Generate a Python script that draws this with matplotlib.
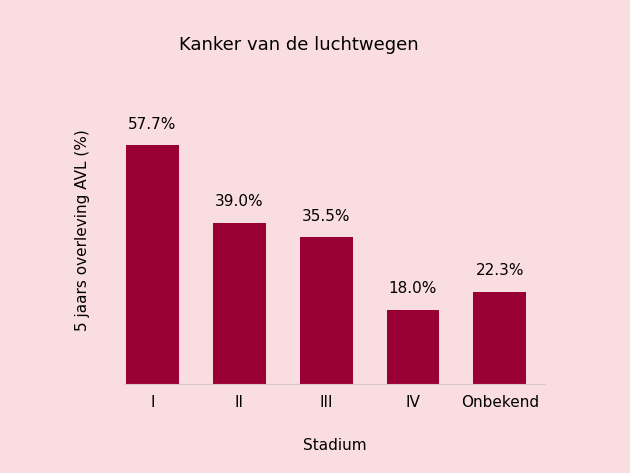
import matplotlib.pyplot as plt

stages = ["I", "II", "III", "IV", "Onbekend"]
survival = [57.7, 39.0, 35.5, 18.0, 22.3]

bg = "#fadde1"
bar_color = "#990033"

fig = plt.figure(figsize=(6.3, 4.73), dpi=100, facecolor=bg)
ax = fig.add_axes([0.198, 0.188, 0.667, 0.653], facecolor=bg)

x = range(len(stages))
bars = ax.bar(x, survival, width=0.61, color=bar_color)
for rect, v in zip(bars, survival):
    ax.text(rect.get_x() + rect.get_width() / 2, v + 3.2, f"{v:.1f}%",
            ha="center", va="bottom", fontsize=11)

ax.set_xlim(-0.32, 4.52)
ax.set_ylim(0, 74.6)
ax.set_xticks(list(x))
ax.set_xticklabels(stages, fontsize=11)
ax.set_yticks([])
ax.tick_params(axis="x", length=0, pad=8)
for side in ["top", "right", "left"]:
    ax.spines[side].set_visible(False)
ax.spines["bottom"].set_color("#d9c8cb")

ax.set_xlabel("Stadium", fontsize=11, labelpad=20)
ax.set_ylabel("5 jaars overleving AVL (%)", fontsize=11, labelpad=25)
fig.text(0.475, 0.895, "Kanker van de luchtwegen", ha="center", fontsize=13)

fig.savefig("out.png", dpi=100, facecolor=bg)
